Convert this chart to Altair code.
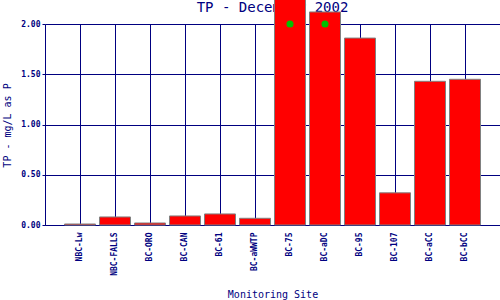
import altair as alt
import pandas as pd

chart_title = "TP - December 2002"
sites = ["NBC-Lw", "NBC-FALLS", "BC-ORO", "BC-CAN", "BC-61", "BC-aWWTP",
         "BC-75", "BC-aDC", "BC-95", "BC-107", "BC-aCC", "BC-bCC"]
tp = [0.01, 0.08, 0.02, 0.09, 0.11, 0.067, 2.5, 2.12, 1.86, 0.32, 1.43, 1.45]
flag_sites = ["BC-75", "BC-aDC"]
flag_values = [2.0, 2.0]

df = pd.DataFrame({"site": sites, "tp": tp})
df_flag = pd.DataFrame({"site": flag_sites, "v": flag_values})
df_title = pd.DataFrame({"t": [chart_title]})

NAVY = "#000080"
FONT = "DejaVu Sans Mono"

xscale = alt.Scale(domain=sites, paddingInner=0.114, paddingOuter=0.557)
yscale = alt.Scale(domain=[0, 2])

x = alt.X("site:N", scale=xscale, sort=sites,
          axis=alt.Axis(title="Monitoring Site", labelAngle=-90, labelAlign="right",
                        labelBaseline="middle", labelPadding=7, labelFont=FONT,
                        labelFontSize=8, labelFontWeight="bold", labelColor=NAVY,
                        ticks=False, grid=True, gridColor=NAVY, gridWidth=1,
                        bandPosition=0.5, domainColor=NAVY,
                        titleFont=FONT, titleFontSize=10, titleFontWeight="normal",
                        titleColor=NAVY, titleX=227.5, titleY=72,
                        titleBaseline="alphabetic", titleAlign="center"))

title_text = alt.Chart(df_title).mark_text(
    font=FONT, fontSize=14, color=NAVY, align="center", baseline="alphabetic",
    clip=False
).encode(
    x=alt.value(227.5), y=alt.value(-12), text="t:N"
)

bars = alt.Chart(df).mark_bar(color="#FF0000", stroke="#808080", strokeWidth=1,
                              clip=False).encode(
    x=x,
    y=alt.Y("tp:Q", scale=yscale,
            axis=alt.Axis(title="TP - mg/L as P", values=[0, 0.5, 1.0, 1.5, 2.0],
                          format=".2f", labelFont=FONT, labelFontSize=8,
                          labelFontWeight="bold", labelColor=NAVY, labelPadding=2,
                          tickColor=NAVY, tickSize=3, grid=True, gridColor=NAVY,
                          gridWidth=1, domainColor=NAVY,
                          titleFont=FONT, titleFontSize=10, titleFontWeight="normal",
                          titleColor=NAVY, titleAngle=-90, titleX=-38, titleY=101,
                          titleBaseline="middle", titleAlign="center")),
)

dots = alt.Chart(df_flag).mark_point(filled=True, color="#00C000", size=50,
                                     opacity=1, shape="circle").encode(
    x=alt.X("site:N", scale=xscale, sort=sites),
    y=alt.Y("v:Q", scale=yscale),
)

chart = (title_text + bars + dots).properties(
    width=455, height=201,
    autosize=alt.AutoSizeParams(type="none"),
    padding={"left": 45, "top": 24, "right": 0, "bottom": 75},
).configure_view(stroke=NAVY, strokeWidth=1).configure(background="white")

chart.save("out.html", embed_options={"renderer": "svg", "actions": False})
